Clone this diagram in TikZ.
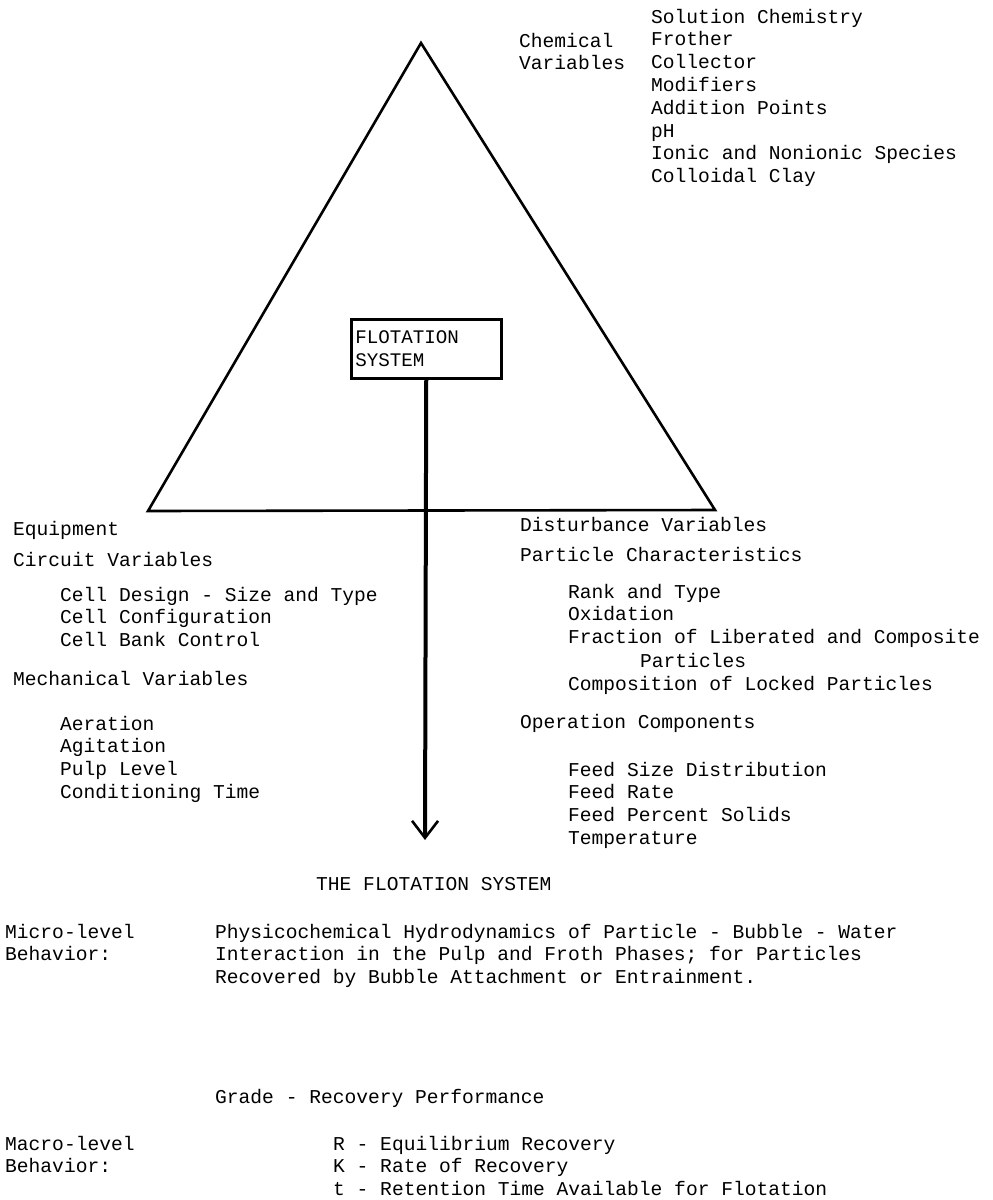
\documentclass[tikz,border=0pt]{standalone}
\usepackage{fontspec}
\setmonofont{Liberation Mono}
\usetikzlibrary{arrows.meta}
\newcommand{\mlines}[1]{\begin{tabular}[t]{@{}l@{}}#1\end{tabular}}
\tikzset{
  txt/.style={anchor=base west, inner sep=0pt, font=\ttfamily\fontsize{19.6}{22.8}\selectfont},
  fbox/.style={draw, line width=2.5pt, anchor=north west, minimum width=150pt, minimum height=59pt,
    inner xsep=4pt, inner ysep=0pt, text width=142pt, align=left, font=\ttfamily\fontsize{19.2}{22.8}\selectfont},
  tri/.style={line width=2.6pt, line join=miter},
  flow/.style={line width=4pt, -{Straight Barb[length=17pt,width=26pt,line width=2.6pt]}}
}
\begin{document}
\begin{tikzpicture}[x=1pt,y=-1pt]
\useasboundingbox (0,0) rectangle (993,1200);
% triangle
\coordinate (apex) at (421,43);
\coordinate (bl) at (148,511);
\coordinate (br) at (715,510);
\draw[tri] (apex) -- (bl) -- (br) -- cycle;
% box and arrow
\node[fbox] (box) at (350,318) {FLOTATION\\SYSTEM};
\coordinate (tip) at (425,840);
\draw[flow] (box.south) -- (tip);
% chemical variables
\node[txt] (chem) at (519,47) {\mlines{Chemical\\Variables}};
\node[txt] (chemlist) at (651,23) {\mlines{Solution Chemistry\\Frother\\Collector\\Modifiers\\Addition Points\\pH\\Ionic and Nonionic Species\\Colloidal Clay}};
% left column
\node[txt] (equip) at (13,535) {Equipment};
\node[txt] (circ) at (13,566) {Circuit Variables};
\node[txt] (circlist) at (60,601) {\mlines{Cell Design - Size and Type\\Cell Configuration\\Cell Bank Control}};
\node[txt] (mech) at (13,685) {Mechanical Variables};
\node[txt] (mechlist) at (60,730) {\mlines{Aeration\\Agitation\\Pulp Level\\Conditioning Time}};
% right column
\node[txt] (dist) at (520,531) {Disturbance Variables};
\node[txt] (part) at (520,561) {Particle Characteristics};
\node[txt] (partlist1) at (568,598) {\mlines{Rank and Type\\Oxidation\\Fraction of Liberated and Composite}};
\node[txt] (partlist2) at (640,667) {Particles};
\node[txt] (partlist3) at (568,690) {Composition of Locked Particles};
\node[txt] (oper) at (520,728) {Operation Components};
\node[txt] (operlist) at (568,776) {\mlines{Feed Size Distribution\\Feed Rate\\Feed Percent Solids\\Temperature}};
% bottom
\node[txt] (title) at (316,890) {THE FLOTATION SYSTEM};
\node[txt] (micro) at (5,938) {\mlines{Micro-level\\Behavior:}};
\node[txt] (microtxt) at (215,938) {\mlines{Physicochemical Hydrodynamics of Particle - Bubble - Water\\Interaction in the Pulp and Froth Phases; for Particles\\Recovered by Bubble Attachment or Entrainment.}};
\node[txt] (grade) at (215,1103) {Grade - Recovery Performance};
\node[txt] (macro) at (5,1150) {\mlines{Macro-level\\Behavior:}};
\node[txt] (macrotxt) at (333,1150) {\mlines{R - Equilibrium Recovery\\K - Rate of Recovery\\t - Retention Time Available for Flotation}};
\end{tikzpicture}
\end{document}
